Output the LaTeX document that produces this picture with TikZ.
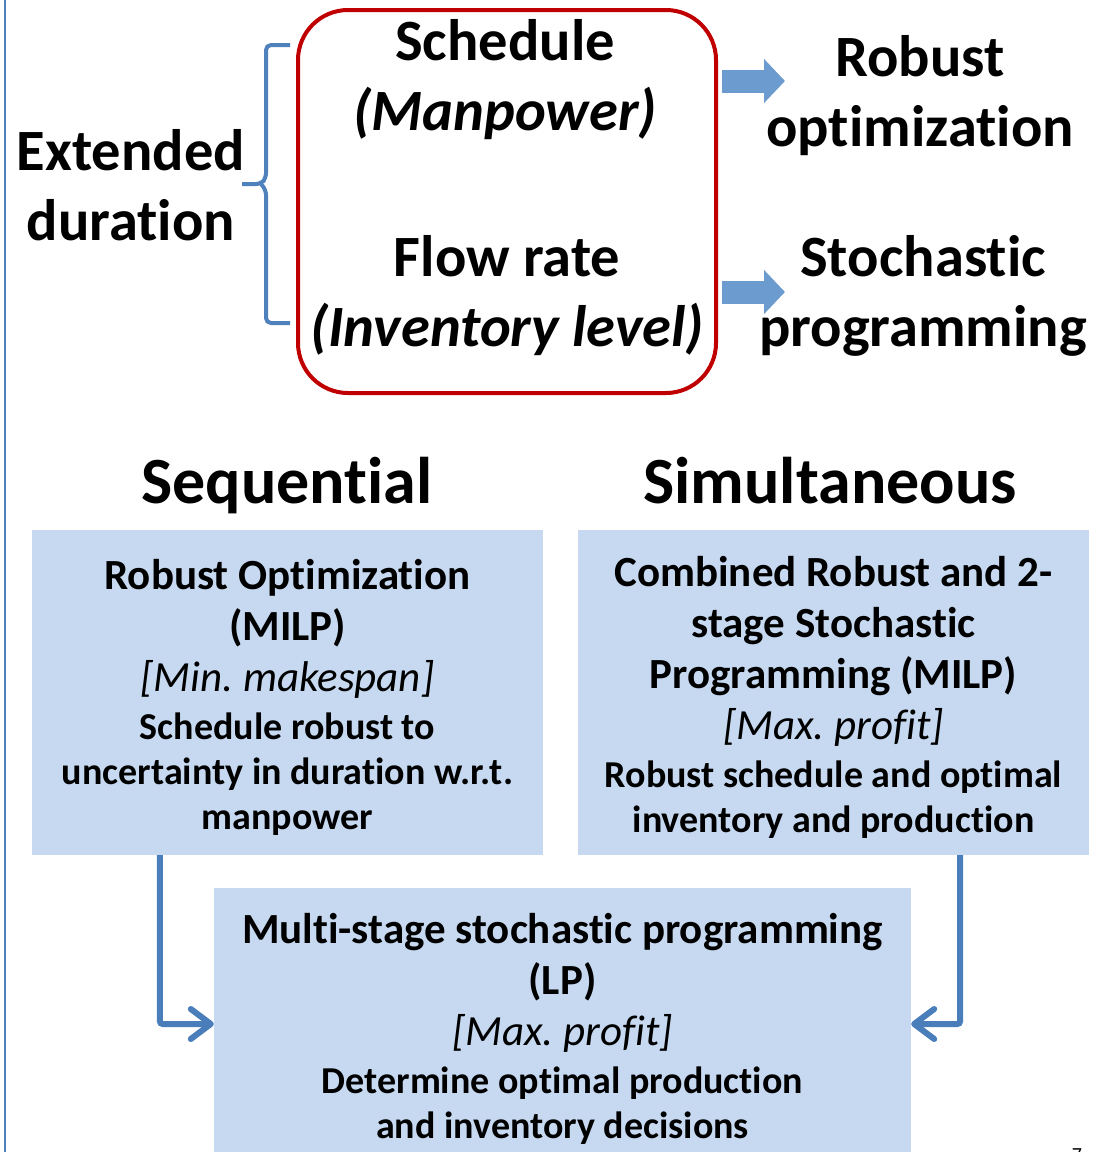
\documentclass[tikz,border=0pt]{standalone}
\usepackage{fontspec}
\setmainfont{Carlito}[Ligatures=NoCommon]
\frenchspacing
\usetikzlibrary{arrows.meta,calc,positioning}
\definecolor{boxblue}{RGB}{198,217,240}
\definecolor{linkblue}{RGB}{74,126,187}
\definecolor{fatblue}{RGB}{108,155,208}
\definecolor{braceblue}{RGB}{79,129,189}
\definecolor{framered}{RGB}{192,0,0}
\tikzset{
    big label/.style={align=center,font=\bfseries\fontsize{58.5pt}{70pt}\selectfont},
    head label/.style={anchor=base,font=\bfseries\fontsize{66pt}{76pt}\selectfont},
    method box/.style={fill=boxblue,inner sep=0pt,align=flush center,font=\bfseries\fontsize{43pt}{51pt}\selectfont},
    fat arrow/.style={fatblue,line width=23pt,-{Triangle[length=21pt,width=43pt]}},
    elbow/.style={linkblue,line width=6pt,rounded corners=3pt,-{Straight Barb[length=20pt,width=30pt,round]}}
}
\newcommand\detailtext[1]{\vspace{3pt}{\fontsize{38pt}{45pt}\selectfont #1\par}}
\begin{document}
\begin{tikzpicture}[x=1pt,y=-1pt]
    \useasboundingbox (0,0) rectangle (1095,1152);
    \draw[braceblue,line width=2pt] (5,0) -- (5,1152);

    % top part
    \node[big label] (ext) at (131,185) {Extended\\duration};
    \node[draw=framered,line width=4pt,fill=white,rounded corners=50pt,minimum width=418pt,minimum height=383pt] (rbox) at (507,201.5) {};
    \node[big label] (sched) at (505,80) {Schedule\\\textit{(Manpower)}};
    \node[big label] (flow) at (507,296) {Flow rate\\\textit{(Inventory level)}};
    \node[big label] (robust) at (920,96) {Robust\\optimization};
    \node[big label] (stoch) at (923,296) {Stochastic\\programming};

    \draw[braceblue,line width=4pt,rounded corners=5pt] (290,45) -- (266,45) -- (266,178) -- (261,184) -- (242,184);
    \draw[braceblue,line width=4pt,rounded corners=5pt] (261,184) -- (266,190) -- (266,323) -- (290,323);

    \coordinate (ra) at (722,81);
    \coordinate (rb) at (785,81);
    \coordinate (sa) at (722,292);
    \coordinate (sb) at (785,292);
    \draw[fat arrow] (ra) -- (rb);
    \draw[fat arrow] (sa) -- (sb);

    % bottom part
    \node[head label] (seq) at (287,503) {Sequential};
    \node[head label] (sim) at (830,503) {Simultaneous};

    \node[method box,minimum width=511pt,minimum height=325pt,text width=505pt] (seqbox) at (287.5,692.5)
        {\rule{0pt}{40pt}Robust Optimization\\(MILP)\\{\mdseries\itshape [Min. makespan]}\par
         \detailtext{Schedule robust to\\uncertainty in duration w.r.t.\\manpower}};
    \node[method box,minimum width=511pt,minimum height=325pt,text width=505pt] (simbox) at (833.5,692.5)
        {\rule{0pt}{40pt}Combined Robust and 2-\\stage Stochastic\\Programming (MILP)\\{\mdseries\itshape [Max. profit]}\par
         \detailtext{Robust schedule and optimal\\inventory and production}};
    \node[method box,minimum width=697pt,minimum height=272pt,text width=690pt] (msbox) at (562.5,1024)
        {\rule{0pt}{40pt}Multi-stage stochastic programming\\(LP)\\{\mdseries\itshape [Max. profit]}\par
         \detailtext{Determine optimal production\\and inventory decisions}};

    \draw[elbow] ([xshift=128pt]seqbox.south west) |- (msbox.west);
    \draw[elbow] ([xshift=-129pt]simbox.south east) |- (msbox.east);

    \node[anchor=north,font=\fontsize{20pt}{24pt}\selectfont] (pagenum) at (1077,1145) {7};
\end{tikzpicture}
\end{document}
